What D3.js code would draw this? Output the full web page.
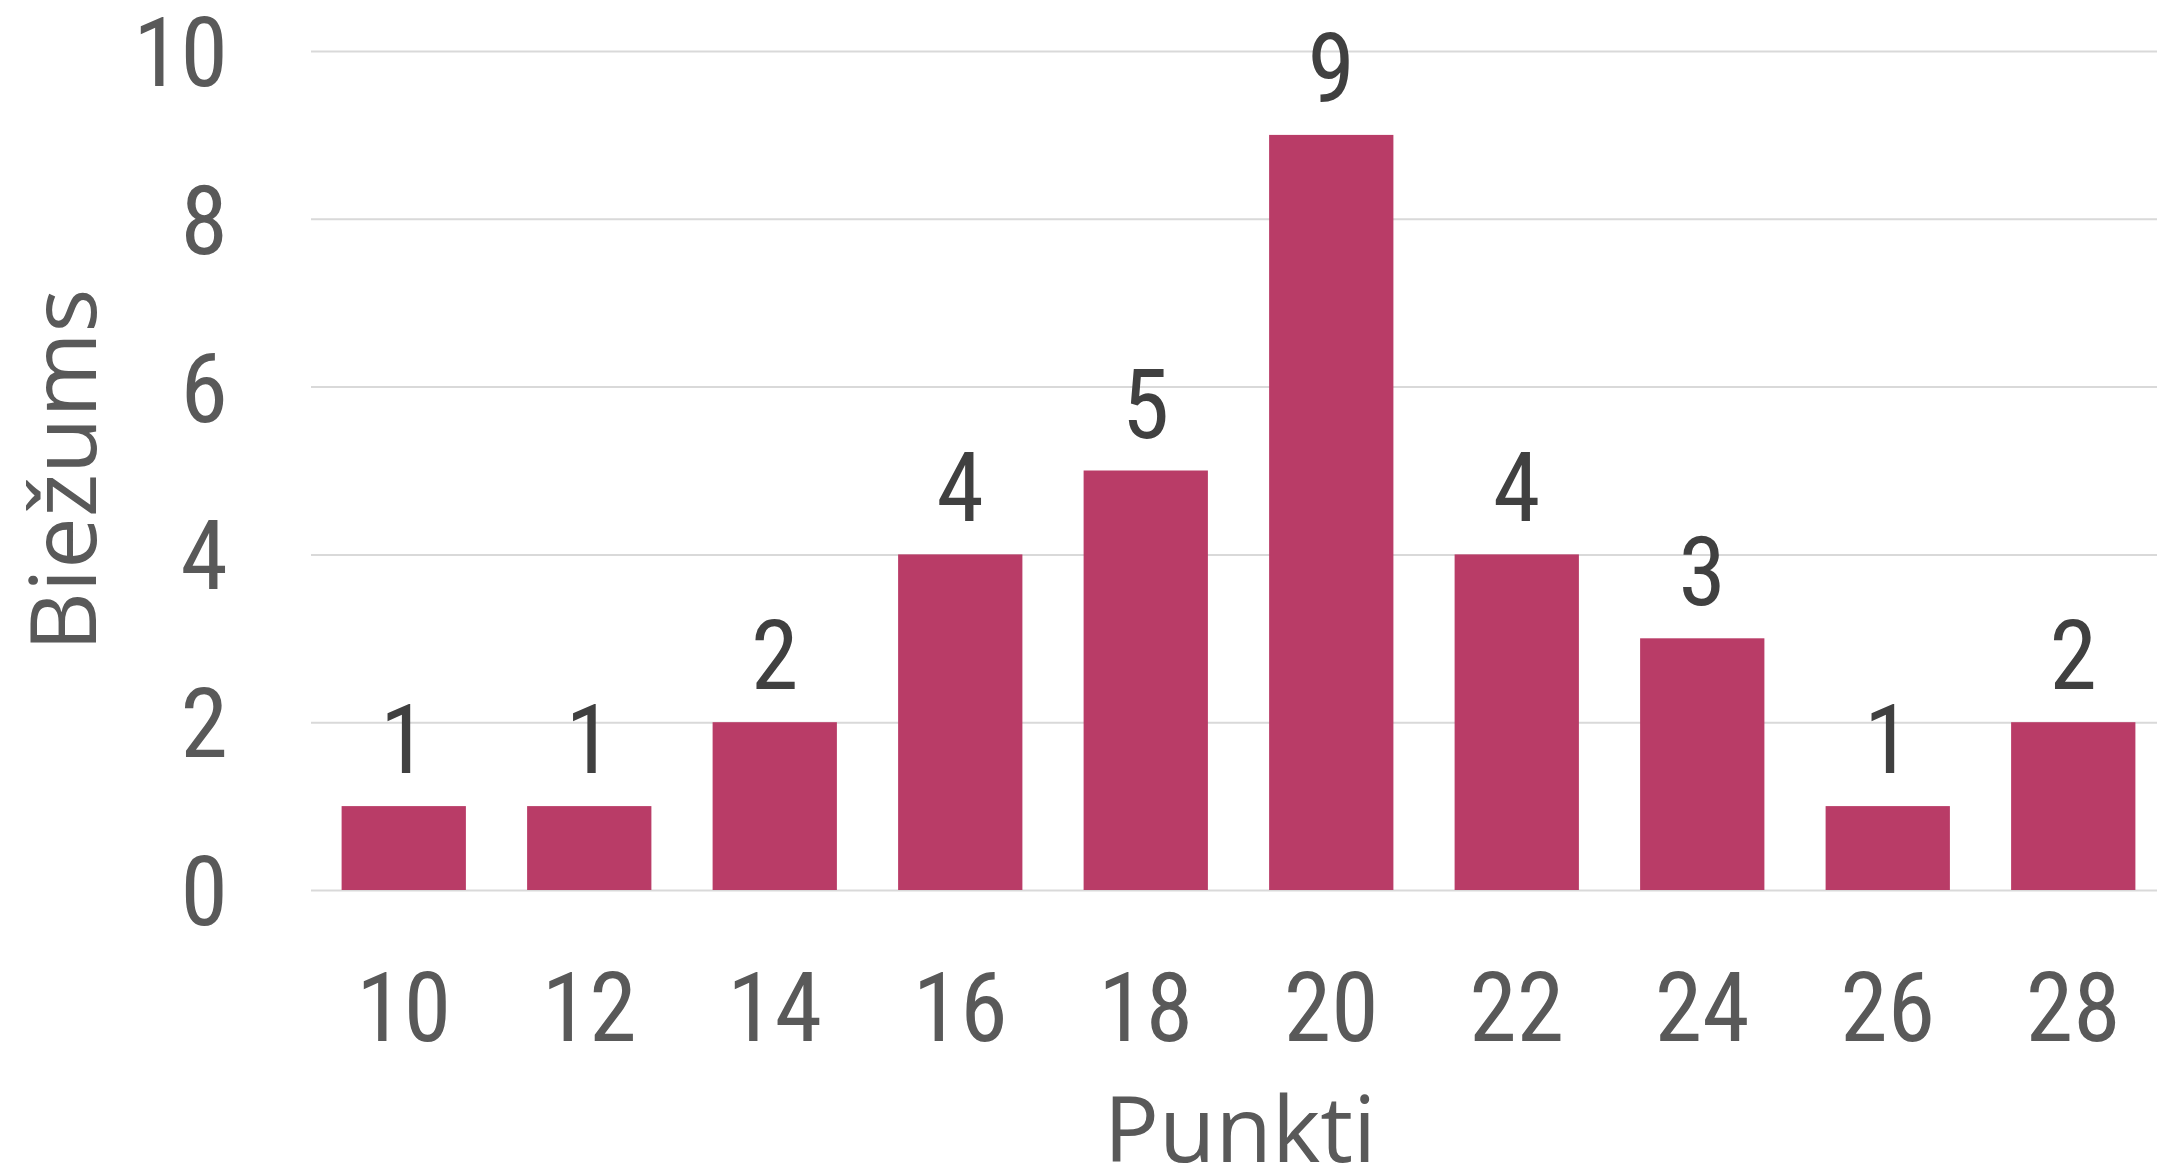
<!DOCTYPE html>
<html>
<head>
<meta charset="utf-8">
<script src="https://cdn.jsdelivr.net/npm/d3@7"></script>
<style>
  body { margin: 0; background: #fff; }
  .num { font-family: "Liberation Sans Narrow", "Roboto Condensed", "DejaVu Sans Condensed", sans-serif; font-size: 96px; }
  .title { font-family: "Open Sans", "Noto Sans", sans-serif; font-size: 92px; fill: #595959; }
</style>
</head>
<body>
<div id="chart"></div>
<script>
// data
const points = ['10', '12', '14', '16', '18', '20', '22', '24', '26', '28']
const counts = [1, 1, 2, 4, 5, 9, 4, 3, 1, 2]
const yTicks = [0, 2, 4, 6, 8, 10]

const W = 2157, H = 1168,
      m = { left: 311, right: 2166, top: 51, bottom: 890 }

let svg = d3.select('#chart').append('svg')
  .attr('width', W)
  .attr('height', H)

let x = d3.scaleBand()
      .domain(points)
      .range([m.left, m.right])
      .paddingInner(0.33)
      .paddingOuter(0.165),
    y = d3.scaleLinear()
      .domain([0, 10])
      .range([m.bottom, m.top])

// gridlines + y labels
let yAxis = svg.append('g')
  .attr('transform', `translate(${m.left},0)`)
  .call(d3.axisLeft(y).tickValues(yTicks).tickSize(-(W - m.left)).tickPadding(83))

yAxis.select('.domain').remove()
yAxis.selectAll('line').attr('stroke', '#d9d9d9').attr('stroke-width', 2)
yAxis.attr('font-size', null).attr('font-family', null)
yAxis.selectAll('text')
  .attr('class', 'num')
  .attr('fill', '#595959')
  .attr('dy', '0.36em')

// bars
svg.append('g')
  .selectAll('rect')
  .data(counts)
  .enter()
  .append('rect')
  .attr('x', (d, i) => x(points[i]))
  .attr('width', x.bandwidth())
  .attr('y', d => y(d))
  .attr('height', d => y(0) - y(d))
  .attr('fill', '#b93c67')

// value labels
svg.append('g')
  .selectAll('text')
  .data(counts)
  .enter()
  .append('text')
  .attr('class', 'num')
  .attr('text-anchor', 'middle')
  .attr('fill', '#404040')
  .attr('x', (d, i) => x(points[i]) + x.bandwidth() / 2)
  .attr('y', d => y(d) - 33)
  .text(d => d)

// x labels
let xAxis = svg.append('g')
  .attr('transform', `translate(0,${m.bottom})`)
  .call(d3.axisBottom(x).tickSize(0).tickPadding(0))

xAxis.select('.domain').remove()
xAxis.attr('font-size', null).attr('font-family', null)
xAxis.selectAll('text')
  .attr('class', 'num')
  .attr('fill', '#595959')
  .attr('dy', null)
  .attr('y', 151)

// axis titles
svg.append('text')
  .attr('class', 'title')
  .attr('text-anchor', 'middle')
  .attr('x', 1240)
  .attr('y', 1162)
  .text('Punkti')

svg.append('text')
  .attr('class', 'title')
  .attr('text-anchor', 'middle')
  .attr('transform', 'translate(96,470) rotate(-90)')
  .text('Biežums')
</script>
</body>
</html>
